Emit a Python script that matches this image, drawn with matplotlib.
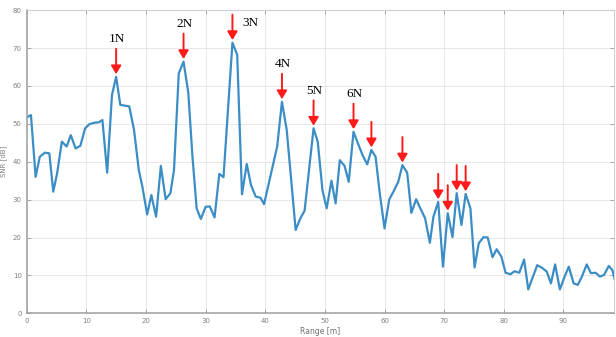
import matplotlib.pyplot as plt

# SNR profile along range
range_m = [0, 0.72, 1.5, 2.2, 3.07, 3.8, 4.46, 5.1, 5.9, 6.7,
           7.4, 8.2, 9.0, 9.8, 10.5, 11.4, 12.1, 12.7, 13.5, 14.3,
           15.0, 15.7, 16.4, 17.2, 18.0, 18.8, 19.4, 20.2, 20.9, 21.7,
           22.5, 23.3, 24.1, 24.7, 25.5, 26.3, 27.1, 27.8, 28.5, 29.2,
           30.0, 30.7, 31.5, 32.3, 33.0, 34.5, 35.3, 36.1, 36.9, 37.6,
           38.4, 39.2, 39.8, 42.0, 42.8, 43.6, 45.1, 45.9, 46.6, 48.1,
           48.8, 49.6, 50.3, 51.1, 51.8, 52.5, 53.3, 54.0, 54.8, 55.5,
           56.3, 57.1, 57.8, 58.5, 59.2, 60.0, 60.8, 61.5, 62.3, 63.0,
           63.8, 64.5, 65.3, 66.0, 66.8, 67.6, 68.2, 69.0, 69.8, 70.6,
           71.4, 72.1, 72.9, 73.6, 74.4, 75.1, 75.8, 76.6, 77.3, 78.1,
           78.8, 79.6, 80.3, 81.1, 81.8, 82.6, 83.4, 84.1, 84.9, 85.6,
           86.4, 87.2, 87.9, 88.6, 89.4, 90.2, 90.9, 91.7, 92.4, 93.1,
           93.9, 94.6, 95.4, 96.1, 96.8, 97.6, 98.2, 98.7]
snr_db = [51.7, 52.3, 36.0, 41.3, 42.4, 42.2, 32.1, 36.9, 45.3, 44.0,
          47.0, 43.5, 44.2, 48.8, 49.9, 50.3, 50.4, 51.0, 37.1, 57.6,
          62.4, 55.0, 54.8, 54.6, 48.4, 37.8, 33.4, 26.1, 31.2, 25.5,
          38.9, 30.1, 31.7, 37.8, 63.3, 66.4, 58.2, 41.3, 27.7, 24.9,
          28.1, 28.2, 25.3, 36.8, 35.9, 71.4, 68.2, 31.4, 39.4, 33.9,
          30.8, 30.5, 28.8, 44.0, 55.8, 48.4, 22.0, 25.1, 27.1, 48.8,
          45.3, 32.4, 27.7, 35.0, 29.0, 40.4, 38.9, 34.7, 47.9, 45.0,
          41.8, 39.3, 43.1, 41.3, 31.7, 22.4, 30.1, 32.1, 34.7, 39.1,
          37.1, 26.5, 30.1, 27.7, 25.1, 18.6, 25.5, 29.4, 12.3, 26.4,
          20.1, 31.7, 23.3, 31.5, 27.7, 12.1, 18.5, 20.1, 20.0, 14.8,
          16.9, 14.9, 10.7, 10.3, 11.1, 10.7, 14.2, 6.3, 9.7, 12.7,
          12.0, 11.0, 7.9, 12.9, 6.3, 9.7, 12.3, 7.9, 7.5, 9.7,
          12.9, 10.6, 10.7, 9.7, 10.1, 12.5, 11.4, 8.3]

# marked peaks (index into the series) and their labels
peak_idx = [20, 35, 45, 54, 59, 68, 72, 79, 87, 89, 91, 93]
peak_labels = ['1N', '2N', '3N', '4N', '5N', '6N', '', '', '', '', '', '']

x_ticks = [0, 10, 20, 30, 40, 50, 60, 70, 80, 90]
y_ticks = [0, 10, 20, 30, 40, 50, 60, 70, 80]

fig = plt.figure(figsize=(6.16, 3.37), dpi=100)
ax = fig.add_axes([0.0433, 0.0703, 0.9537, 0.8997])

ax.plot(range_m, snr_db, color='#3b8dc6', lw=1.6, solid_joinstyle='round')

ax.set_xlim(0, 98.5)
ax.set_ylim(0, 80)
ax.set_xticks(x_ticks)
ax.set_yticks(y_ticks)
ax.grid(True, color='#e4e4e4', lw=0.6)
ax.set_axisbelow(True)
ax.tick_params(direction='in', length=3, width=0.6, colors='#9a9a9a',
               labelsize=5, labelcolor='#808080', top=True, right=True)
for side in ['left', 'bottom']:
    ax.spines[side].set_color('#9e9e9e')
    ax.spines[side].set_linewidth(1.1)
for side in ['top', 'right']:
    ax.spines[side].set_color('#cfcfcf')
    ax.spines[side].set_linewidth(0.8)

ax.set_xlabel('Range [m]', fontsize=5.5, color='#707070', labelpad=2)
ax.set_ylabel('SNR [dB]', fontsize=5, color='#808080', labelpad=4)

arrow_len = 6.7
for i, lab in zip(peak_idx, peak_labels):
    px, py = range_m[i], snr_db[i] + 0.7
    ax.annotate('', xy=(px, py), xytext=(px, py + arrow_len),
                arrowprops=dict(arrowstyle='-|>,head_width=0.3,head_length=0.5',
                                color='#ff1a1a', lw=1.4, mutation_scale=10,
                                shrinkA=0, shrinkB=0))
    if not lab:
        continue
    if lab == '3N':
        ax.annotate(lab, xy=(px, py + arrow_len), xytext=(13, -6),
                    textcoords='offset points', ha='center', va='center',
                    fontsize=9.5, family='Liberation Serif')
    else:
        ax.annotate(lab, xy=(px, py + arrow_len), xytext=(0.5, 7),
                    textcoords='offset points', ha='center', va='center',
                    fontsize=9.5, family='Liberation Serif')

fig.savefig('out.png', dpi=100)
